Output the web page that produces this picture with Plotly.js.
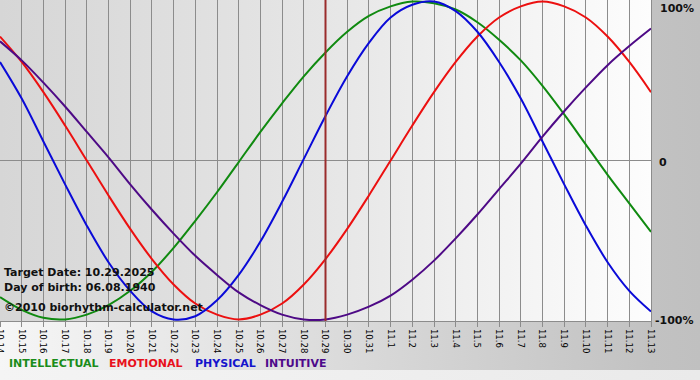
<!DOCTYPE html>
<html>
<head>
<meta charset="utf-8">
<script src="https://cdn.plot.ly/plotly-3.0.1.min.js"></script>
<style>
html,body{margin:0;padding:0;background:#fff;}
#chart{width:700px;height:380px;}
</style>
</head>
<body>
<div id="chart"></div>
<script>
// ---- data ----
const dates = ["10.14","10.15","10.16","10.17","10.18","10.19","10.20","10.21","10.22","10.23",
  "10.24","10.25","10.26","10.27","10.28","10.29","10.30","10.31","11.1","11.2",
  "11.3","11.4","11.5","11.6","11.7","11.8","11.9","11.10","11.11","11.12","11.13"];
const intellectual = [-0.86,-0.94,-0.99,-1.00,-0.97,-0.91,-0.82,-0.70,-0.55,-0.38,
  -0.20,-0.01,0.18,0.36,0.53,0.68,0.81,0.91,0.97,1.00,
  0.99,0.95,0.87,0.76,0.63,0.47,0.29,0.10,-0.09,-0.27,-0.45];
const emotional = [0.78,0.62,0.43,0.22,0.00,-0.22,-0.43,-0.62,-0.78,-0.90,
  -0.97,-1.00,-0.97,-0.90,-0.78,-0.62,-0.43,-0.22,0.00,0.22,
  0.43,0.62,0.78,0.90,0.97,1.00,0.97,0.90,0.78,0.62,0.43];
const physical = [0.62,0.39,0.12,-0.15,-0.41,-0.64,-0.82,-0.95,-1.00,-0.98,
  -0.88,-0.72,-0.51,-0.26,0.01,0.28,0.53,0.74,0.90,0.98,
  1.00,0.94,0.81,0.62,0.39,0.12,-0.15,-0.41,-0.64,-0.82,-0.95];
const intuitive = [0.75,0.63,0.49,0.34,0.18,0.02,-0.15,-0.31,-0.46,-0.60,
  -0.72,-0.83,-0.91,-0.97,-1.00,-1.00,-0.97,-0.92,-0.85,-0.75,
  -0.63,-0.49,-0.34,-0.18,-0.02,0.15,0.31,0.46,0.60,0.72,0.83];
const seriesNames = ["INTELLECTUAL","EMOTIONAL","PHYSICAL","INTUITIVE"];
const yTickVals = [1, 0, -1];
const yTickText = ["100%", "0", "-100%"];
const targetDate = "10.29";
const infoLines = ["Target Date: 10.29.2025", "Day of birth: 06.08.1940", "\u00A92010 biorhythm-calculator.net"];

// ---- styles ----
const lineColors = ["#108a10", "#ec1010", "#0a0ad8", "#4e0a86"];
const legendColors = ["#1a8c1a", "#e8101c", "#1414cc", "#4e0a8a"];
const legendX = [7, 107, 193, 263];
const gridCol = "#8c8c8c";
const W = 700, H = 380, ML = 0, MR = 49, MT = 0, MB = 59;
const PW = W - ML - MR, PH = H - MT - MB;

const xIdx = dates.map((d, i) => i);
const values = [intellectual, emotional, physical, intuitive];

function grad(stops) {
  let s = '<svg xmlns="http://www.w3.org/2000/svg" width="100" height="100" preserveAspectRatio="none">' +
    '<defs><linearGradient id="g" x1="0" y1="0" x2="1" y2="0">';
  stops.forEach(st => { s += '<stop offset="' + st[0] + '" stop-color="' + st[1] + '"/>'; });
  s += '</linearGradient></defs><rect width="100" height="100" fill="url(#g)"/></svg>';
  return 'data:image/svg+xml;charset=utf-8,' + encodeURIComponent(s);
}

const traces = values.map((v, k) => ({
  x: xIdx, y: v, type: 'scatter', mode: 'lines', name: seriesNames[k],
  line: {color: lineColors[k], width: 2, shape: 'spline', smoothing: 1},
  hoverinfo: 'skip', cliponaxis: true
}));

const fontB = {family: "DejaVu Sans, Verdana, sans-serif", size: 11, color: "#111"};
const annotations = [];
infoLines.forEach((t, i) => {
  annotations.push({xref: 'paper', yref: 'paper', x: 2 / PW, y: 1 - [272, 287, 307][i] / PH,
    xanchor: 'left', yanchor: 'middle', showarrow: false, text: '<b>' + t + '</b>', font: fontB});
});
yTickVals.forEach((v, i) => {
  annotations.push({xref: 'paper', yref: 'y', x: 1, y: v, xanchor: 'left', yanchor: 'middle',
    xshift: [7, 6, 2][i], yshift: [-7, -2, -1][i], showarrow: false, text: '<b>' + yTickText[i] + '</b>', font: fontB});
});
seriesNames.forEach((n, i) => {
  annotations.push({xref: 'paper', yref: 'paper', x: legendX[i] / PW, y: 1 - 363 / PH,
    xanchor: 'left', yanchor: 'middle', showarrow: false, text: '<b>' + n + '</b>',
    font: {family: "DejaVu Sans, Verdana, sans-serif", size: 11, color: legendColors[i]}});
});

const tIdx = dates.indexOf(targetDate);

const layout = {
  width: W, height: H,
  margin: {l: ML, r: MR, t: MT, b: MB, pad: 0},
  paper_bgcolor: '#c8c8c8', plot_bgcolor: 'rgba(0,0,0,0)',
  showlegend: false,
  xaxis: {
    range: [0, dates.length - 1], tickmode: 'array', tickvals: xIdx, ticktext: dates,
    tickangle: 90, ticks: 'outside', ticklen: 5, tickcolor: gridCol, tickwidth: 1,
    ticklabeloverflow: 'allow',
    tickfont: {family: "DejaVu Sans Condensed, DejaVu Sans, sans-serif", size: 9.5, color: '#000'},
    showgrid: true, gridcolor: gridCol, gridwidth: 1, zeroline: false,
    showline: true, linecolor: gridCol, linewidth: 1, mirror: true, fixedrange: true
  },
  yaxis: {
    range: [-1.01, 1.01], tickmode: 'array', tickvals: [0], showticklabels: false, ticks: '',
    showgrid: true, gridcolor: gridCol, gridwidth: 1, zeroline: false,
    showline: true, linecolor: gridCol, linewidth: 1, mirror: true, fixedrange: true
  },
  images: [
    {source: grad([[0, '#f6f6f6'], [0.93, '#c2c2c2'], [1, '#c0c0c0']]), xref: 'paper', yref: 'paper',
      x: -ML / PW, y: 1 + MT / PH, sizex: W / PW, sizey: 370 / PH, xanchor: 'left', yanchor: 'top',
      sizing: 'stretch', layer: 'below'},
    {source: grad([[0, '#f4f4f4'], [1, '#eaeaea']]), xref: 'paper', yref: 'paper',
      x: -ML / PW, y: 1 - 370 / PH, sizex: W / PW, sizey: 10 / PH, xanchor: 'left', yanchor: 'top',
      sizing: 'stretch', layer: 'below'},
    {source: grad([[0, '#d6d6d6'], [0.5, '#e6e6e6'], [0.8, '#f4f4f4'], [1, '#fdfdfd']]), xref: 'paper', yref: 'paper',
      x: 0, y: 1, sizex: 1, sizey: 1, xanchor: 'left', yanchor: 'top', sizing: 'stretch', layer: 'below'}
  ],
  shapes: [
    {type: 'line', xref: 'x', yref: 'paper', x0: tIdx, x1: tIdx, y0: 0, y1: 1,
      line: {color: '#9a2c2c', width: 2}, layer: 'above'}
  ],
  annotations: annotations
};

Plotly.newPlot('chart', traces, layout, {staticPlot: true, displayModeBar: false});
</script>
</body>
</html>
